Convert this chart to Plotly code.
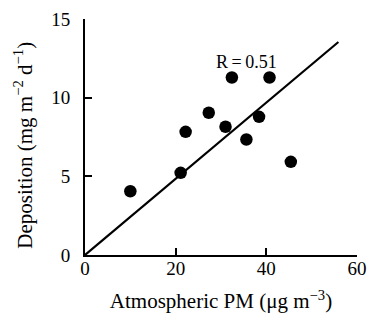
import plotly.graph_objects as go

pm = [10.0, 21.1, 22.2, 27.3, 31.0, 32.4, 35.6, 38.4, 40.7, 45.4]
deposition = [4.05, 5.22, 7.83, 9.04, 8.15, 11.28, 7.34, 8.78, 11.28, 5.92]
fit_x = [0, 55.9]
fit_y = [0, 13.54]
x_ticks = [0, 20, 40, 60]
y_ticks = [0, 5, 10, 15]

font = "Liberation Serif, Times New Roman, serif"

fig = go.Figure()
fig.add_trace(go.Scatter(x=fit_x, y=fit_y, mode="lines",
                         line=dict(color="black", width=2.2), showlegend=False))
fig.add_trace(go.Scatter(x=pm, y=deposition, mode="markers",
                         marker=dict(color="black", size=12.5), showlegend=False))
fig.add_annotation(x=35.6, y=12.24, text="R\u2009=\u20090.51", showarrow=False,
                   font=dict(family=font, size=18, color="black"))
# y-axis title
fig.add_annotation(xref="paper", yref="paper", x=-0.224, y=0.4635,
                   xanchor="center", yanchor="middle", textangle=-90,
                   text="Deposition (mg m<sup>−2</sup> d<sup>−1</sup>)",
                   showarrow=False, font=dict(family=font, size=21, color="black"))

fig.update_layout(
    width=370, height=322,
    margin=dict(l=85, r=13, t=19, b=67, autoexpand=False),
    plot_bgcolor="white", paper_bgcolor="white",
    font=dict(family=font, size=19, color="black"),
    xaxis=dict(range=[0, 60], tickvals=x_ticks, ticks="inside", ticklen=7,
               tickwidth=2, tickcolor="black", showline=True, linewidth=2,
               linecolor="black", showgrid=False, zeroline=False, automargin=False,
               tickfont=dict(size=19), ticklabelstandoff=-5,
               title=dict(text="Atmospheric PM (μg m<sup>−3</sup>)", standoff=16,
                          font=dict(size=21))),
    yaxis=dict(range=[0, 15], tickvals=y_ticks, ticks="inside", ticklen=7,
               tickwidth=2, tickcolor="black", showline=True, linewidth=2,
               linecolor="black", showgrid=False, zeroline=False, automargin=False,
               tickfont=dict(size=19), ticklabelstandoff=9),
)
fig.write_html("out.html", config={"displayModeBar": False},
               post_script="document.body.style.margin='0';document.body.style.overflow='hidden';")
